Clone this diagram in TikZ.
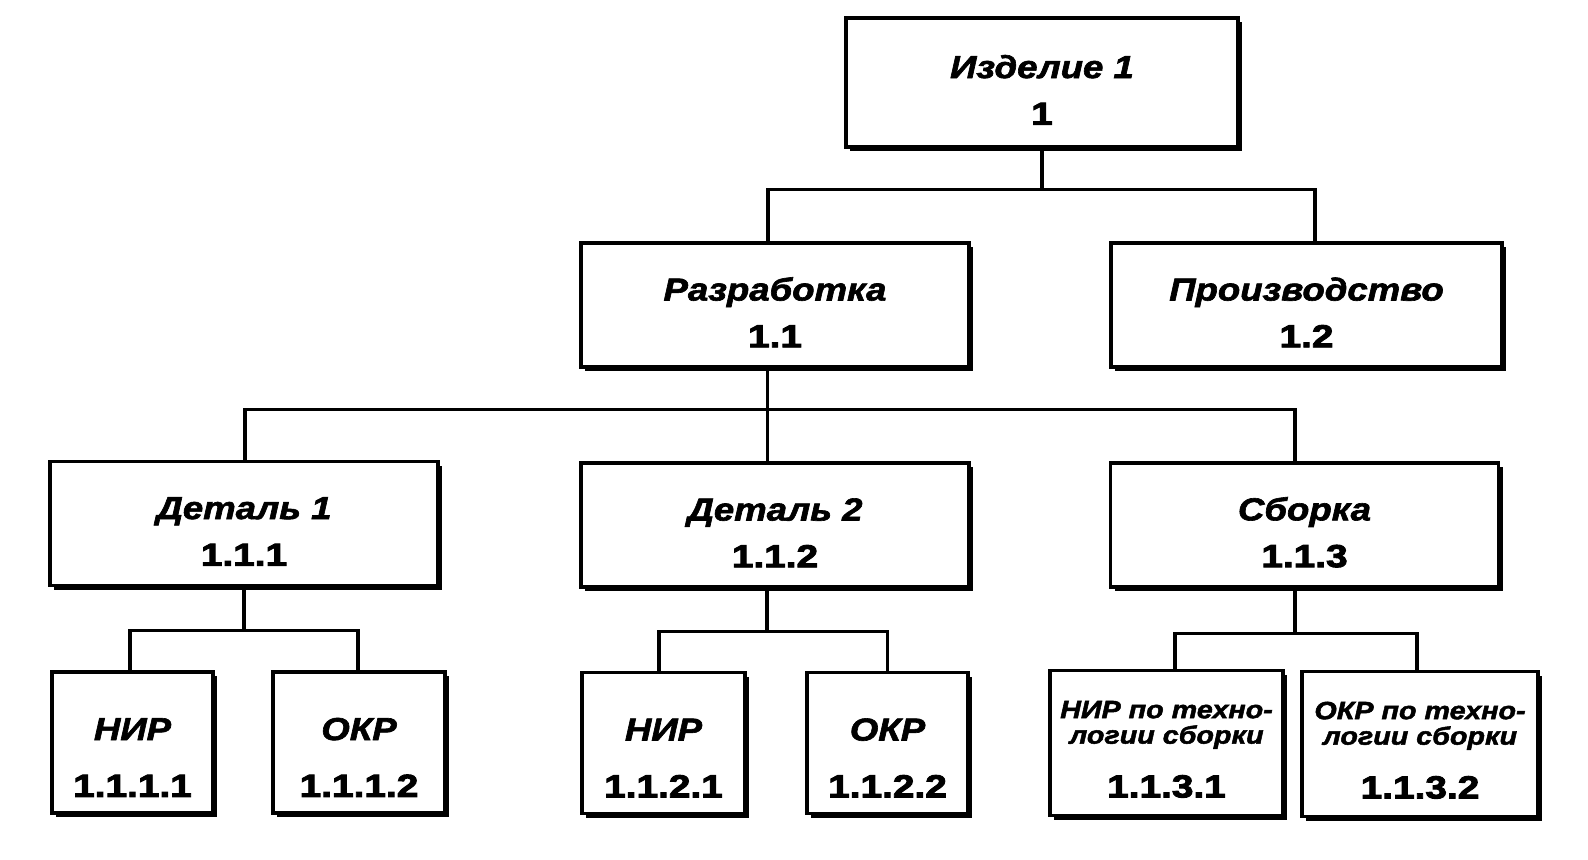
\documentclass[tikz,border=0pt]{standalone}
\usepackage{fontspec}
\newfontfamily\boxfont[FakeStretch=1.15, FakeBold=2]{Liberation Sans}
\newfontfamily\numfont[FakeStretch=1.22, FakeBold=3]{Liberation Sans}
\usepackage{tikz}
\usetikzlibrary{shadows,calc}

\begin{document}
\begin{tikzpicture}[x=0.02cm, y=-0.02cm,
	textbox/.style={draw, fill=white, line width=1.8pt, align=center, inner sep=0,
		drop shadow={shadow xshift=2.4pt, shadow yshift=-2.4pt, fill=black, opacity=1}},
	bigbox/.style={textbox, minimum width=388*0.02cm, minimum height=124*0.02cm,
		font=\boxfont\bfseries\fontsize{18.1}{26.6}\selectfont},
	smallbox/.style={textbox, minimum width=163*0.02cm, minimum height=141*0.02cm,
		font=\boxfont\bfseries\fontsize{18.1}{32.3}\selectfont},
	widebox/.style={textbox, minimum width=235*0.02cm, minimum height=145*0.02cm,
		font=\boxfont\bfseries\fontsize{14.2}{14.5}\selectfont},
	link/.style={line width=1.8pt}
]
\useasboundingbox (0,0) rectangle (1588,859);

\node[bigbox, minimum width=392*0.02cm, minimum height=129*0.02cm] (izd) at (1042,82.5) {\rule{0pt}{21.5pt}{\itshape Изделие 1}\\{\numfont\bfseries 1}};

\node[bigbox] (razr) at (775,305) {\rule{0pt}{21.5pt}{\itshape Разработка}\\{\numfont\bfseries 1.1}};
\node[bigbox, minimum width=391*0.02cm] (proizv) at (1306.5,305) {\rule{0pt}{21.5pt}{\itshape Производство}\\{\numfont\bfseries 1.2}};

\node[bigbox] (det1) at (244,523.5) {\rule{0pt}{21.5pt}{\itshape Деталь 1}\\{\numfont\bfseries 1.1.1}};
\node[bigbox] (det2) at (775,525) {\rule{0pt}{21.5pt}{\itshape Деталь 2}\\{\numfont\bfseries 1.1.2}};
\node[bigbox] (sborka) at (1304.5,525) {\rule{0pt}{21.5pt}{\itshape Сборка}\\{\numfont\bfseries 1.1.3}};

\node[smallbox, minimum width=161*0.02cm] (nir1) at (132.5,742.5) {\rule{0pt}{29.5pt}{\itshape НИР}\\{\numfont\bfseries 1.1.1.1}};
\node[smallbox, minimum width=172*0.02cm] (okr1) at (359,742.5) {\rule{0pt}{29.5pt}{\itshape ОКР}\\{\numfont\bfseries 1.1.1.2}};
\node[smallbox] (nir2) at (663.5,743) {\rule{0pt}{29.5pt}{\itshape НИР}\\{\numfont\bfseries 1.1.2.1}};
\node[smallbox, minimum width=161*0.02cm] (okr2) at (887.5,743) {\rule{0pt}{29.5pt}{\itshape ОКР}\\{\numfont\bfseries 1.1.2.2}};
\node[widebox, minimum width=233*0.02cm] (nir3) at (1166.5,743) {\rule{0pt}{17pt}{\itshape НИР по техно-}\\{\itshape логии сборки}\\[14pt]{\numfont\bfseries\fontsize{18.1}{18.1}\selectfont 1.1.3.1}};
\node[widebox, minimum width=236*0.02cm] (okr3) at (1420,744) {\rule{0pt}{17pt}{\itshape ОКР по техно-}\\{\itshape логии сборки}\\[14pt]{\numfont\bfseries\fontsize{18.1}{18.1}\selectfont 1.1.3.2}};

\draw[link] (izd.south) -- ++(0,41) coordinate (top);
\draw[link] ($(razr.north)+(-7,0)$) |- (top) -| ($(proizv.north)+(8.5,0)$);
\draw[link] ($(razr.south)+(-7.5,0)$) -- ($(det2.north)+(-7.5,0)$);
\coordinate (mid) at ($(razr.south)+(-7.5,41)$);
\draw[link] ($(det1.north)+(1,0)$) |- (mid) -| ($(sborka.north)+(-9.5,0)$);

\draw[link] (det1.south) -- ++(0,43) coordinate (d1);
\draw[link] ($(nir1.north)+(-2.5,0)$) |- (d1) -| ($(okr1.north)+(-1,0)$);
\draw[link] ($(det2.south)+(-8,0)$) -- ++(0,43) coordinate (d2);
\draw[link] ($(nir2.north)+(-4.5,0)$) |- (d2) -| (okr2.north);
\draw[link] ($(sborka.south)+(-9.5,0)$) -- ++(0,45) coordinate (d3);
\draw[link] ($(nir3.north)+(8.5,0)$) |- (d3) -| ($(okr3.north)+(-3,0)$);
\end{tikzpicture}
\end{document}
